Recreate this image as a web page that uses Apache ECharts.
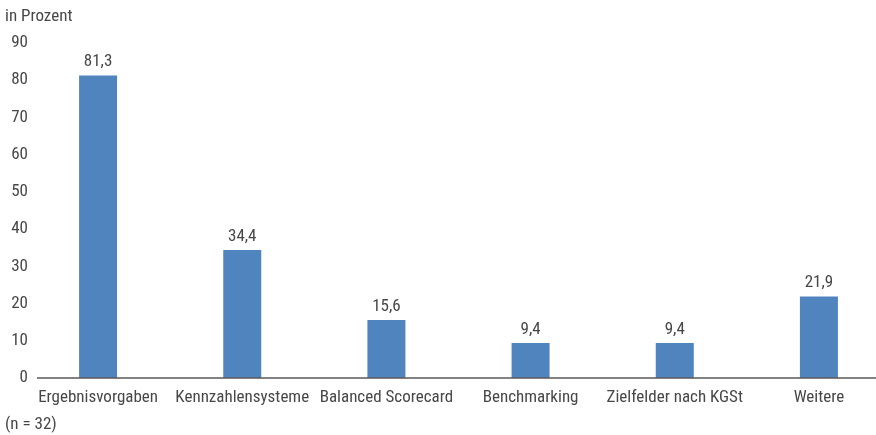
<!DOCTYPE html>
<html>
<head>
<meta charset="utf-8">
<script src="https://cdn.jsdelivr.net/npm/echarts@6/dist/echarts.min.js"></script>
<style>
  html, body { margin: 0; padding: 0; background: #fff; }
  #chart { width: 876px; height: 435px; }
</style>
</head>
<body>
<div id="chart"></div>
<script>
// Steuerungsinstrumente – Anteil der Nennungen
const categories = ['Ergebnisvorgaben', 'Kennzahlensysteme', 'Balanced Scorecard', 'Benchmarking', 'Zielfelder nach KGSt', 'Weitere'];
const values = [81.3, 34.4, 15.6, 9.4, 9.4, 21.9];
const yTicks = [0, 10, 20, 30, 40, 50, 60, 70, 80, 90];
const unitLabel = 'in Prozent';
const sampleNote = '(n = 32)';

const FONT = "'Roboto Condensed', 'Liberation Sans Narrow', 'DejaVu Sans Condensed', sans-serif";
const TEXT = '#474747';
const FS = 17;

const chart = echarts.init(document.getElementById('chart'), null, { renderer: 'canvas' });

chart.setOption({
  animation: false,
  textStyle: { fontFamily: FONT },
  grid: {
    left: 26, width: 865, top: 43, height: 335,
    containLabel: false,
    outerBoundsMode: 'none'
  },
  graphic: [
    { type: 'text', left: 5, top: 8, style: { text: unitLabel, font: FS + 'px ' + FONT, fill: TEXT } },
    { type: 'text', left: 5, top: 416, style: { text: sampleNote, font: FS + 'px ' + FONT, fill: TEXT } }
  ],
  xAxis: {
    type: 'category',
    data: categories,
    axisLine: { show: false },
    axisTick: { show: false },
    axisLabel: { color: TEXT, fontSize: FS, fontFamily: FONT, margin: 11, interval: 0 }
  },
  yAxis: {
    type: 'value',
    min: yTicks[0],
    max: yTicks[yTicks.length - 1],
    interval: 10,
    axisLine: { show: false },
    axisTick: { show: false },
    splitLine: { show: false },
    axisLabel: { color: TEXT, fontSize: FS, fontFamily: FONT, margin: -2 }
  },
  series: [{
    type: 'bar',
    data: values,
    barWidth: 38,
    itemStyle: { color: '#4f84bf' },
    label: {
      show: true,
      position: 'top',
      distance: 5,
      color: TEXT,
      fontSize: FS,
      fontFamily: FONT,
      formatter: p => p.value.toFixed(1).replace('.', ',')
    },
    markLine: {
      silent: true,
      symbol: 'none',
      label: { show: false },
      lineStyle: { color: '#595959', width: 1.5, type: 'solid' },
      data: [[{ x: 37, yAxis: 0 }, { x: 876, yAxis: 0 }]]
    }
  }]
});
</script>
</body>
</html>
